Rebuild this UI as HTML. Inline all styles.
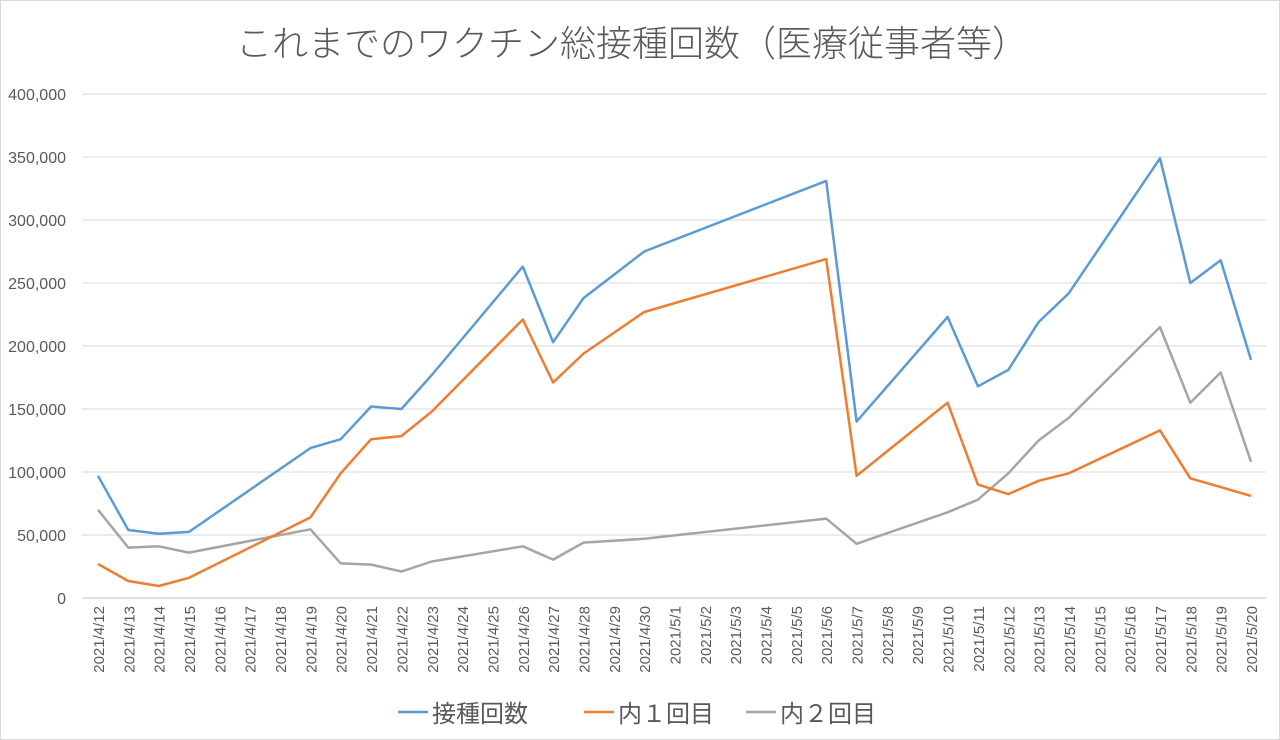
<!DOCTYPE html>
<html><head><meta charset="utf-8"><style>
body{margin:0;background:#fff;}
svg{display:block;font-family:"Liberation Sans","Noto Sans CJK JP",sans-serif;}
</style></head><body>
<svg id="chart" width="1280" height="740">
<rect x="0.5" y="0.5" width="1279" height="739" fill="#fff" stroke="#d9d9d9"/>
<text x="632" y="56" text-anchor="middle" font-size="36" font-weight="300" fill="#595959" style="font-family:'Noto Sans CJK JP',sans-serif">これまでのワクチン総接種回数（医療従事者等）</text>
<g id="grid"></g><g id="yticks"></g><g id="xticks"></g><g id="lines"></g>
<g>
<line x1="398" y1="712" x2="428" y2="712" stroke="#5b9bd5" stroke-width="2.5"/>
<text x="432" y="722" font-size="24" fill="#595959">接種回数</text>
<line x1="584" y1="712" x2="614" y2="712" stroke="#ed7d31" stroke-width="2.5"/>
<text x="618" y="722" font-size="24" fill="#595959">内１回目</text>
<line x1="746" y1="712" x2="776" y2="712" stroke="#a5a5a5" stroke-width="2.5"/>
<text x="780" y="722" font-size="24" fill="#595959">内２回目</text>
</g>
</svg>
<script>
const categories=[];
(function(){const d0=new Date(2021,3,12);for(let i=0;i<39;i++){const d=new Date(d0.getTime()+i*86400000);categories.push('2021/'+(d.getMonth()+1)+'/'+d.getDate());}})();
const pointDates=['2021/4/12','2021/4/13','2021/4/14','2021/4/15','2021/4/19','2021/4/20','2021/4/21','2021/4/22','2021/4/23','2021/4/26','2021/4/27','2021/4/28','2021/4/30','2021/5/6','2021/5/7','2021/5/10','2021/5/11','2021/5/12','2021/5/13','2021/5/14','2021/5/17','2021/5/18','2021/5/19','2021/5/20'];
const totalDoses=[97000,54000,51000,52500,119000,126000,152000,150000,177000,263000,203000,238000,275000,331000,140000,223000,168000,181000,219000,242000,349000,250000,268000,189000];
const firstDoses=[27000,13500,9500,16000,64000,99000,126000,128500,148000,221000,171000,194000,227000,269000,97000,155000,90000,82500,93000,99000,133000,95000,88000,81000];
const secondDoses=[70000,40000,41000,36000,54500,27500,26500,21000,29000,41000,30500,44000,47000,63000,43000,68000,78000,99000,125000,143000,215000,155000,179000,108000];
const yTicks=[0,50000,100000,150000,200000,250000,300000,350000,400000];
const NS='http://www.w3.org/2000/svg';
const x0=98,x1=1251,yb=598,yt=94,ymax=400000;
function xs(i){return x0+(x1-x0)*i/(categories.length-1);}
function ys(v){return yb-(yb-yt)*v/ymax;}
const grid=document.getElementById('grid'),yt_g=document.getElementById('yticks'),xt=document.getElementById('xticks'),lines=document.getElementById('lines');
yTicks.forEach(v=>{
 const l=document.createElementNS(NS,'line');
 l.setAttribute('x1',82);l.setAttribute('x2',1266);l.setAttribute('y1',ys(v));l.setAttribute('y2',ys(v));
 l.setAttribute('stroke',v===0?'#bfbfbf':'#d9d9d9');l.setAttribute('stroke-width',1);
 
 
 grid.appendChild(l);
 const t=document.createElementNS(NS,'text');
 t.setAttribute('x',66);t.setAttribute('y',ys(v)+6);t.setAttribute('text-anchor','end');t.setAttribute('font-size',16);t.setAttribute('fill','#595959');
 t.textContent=v.toLocaleString('en-US');
 
 
 yt_g.appendChild(t);
});
categories.forEach((c,i)=>{
 const t=document.createElementNS(NS,'text');
 const x=xs(i)+6,y=606;
 t.setAttribute('transform','translate('+x+','+y+') rotate(-90)');
 t.setAttribute('text-anchor','end');t.setAttribute('font-size',15);t.setAttribute('fill','#595959');
 t.textContent=c;
 
 
 xt.appendChild(t);
});
function draw(vals,color,name){
 const p=vals.map((v,k)=>{const i=categories.indexOf(pointDates[k]);return (k?'L':'M')+xs(i).toFixed(1)+','+ys(v).toFixed(1);}).join('');
 const path=document.createElementNS(NS,'path');
 path.setAttribute('d',p);path.setAttribute('fill','none');path.setAttribute('stroke',color);path.setAttribute('stroke-width',2.5);path.setAttribute('stroke-linejoin','round');
 
 
 lines.appendChild(path);
}
draw(secondDoses,'#a5a5a5','second-dose-line');
draw(firstDoses,'#ed7d31','first-dose-line');
draw(totalDoses,'#5b9bd5','total-doses-line');
</script>
</body></html>
